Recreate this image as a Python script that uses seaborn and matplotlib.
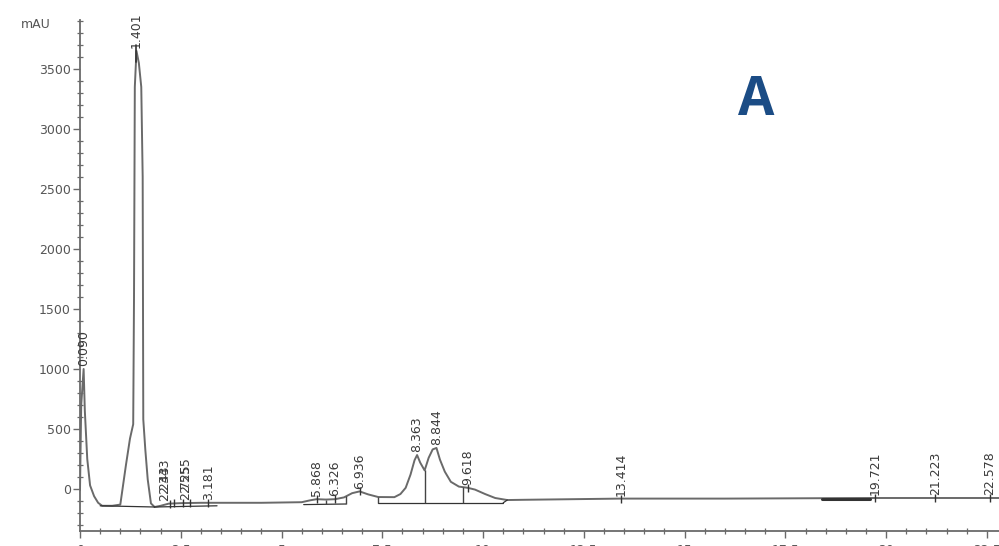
import numpy as np
import pandas as pd
import matplotlib
matplotlib.use("Agg")
import matplotlib.pyplot as plt
import seaborn as sns
from matplotlib.ticker import MultipleLocator

# Detector trace (retention time in min, absorbance in mAU)
time_min = [0.00, 0.03, 0.09, 0.12, 0.18, 0.25, 0.35, 0.45, 0.55, 0.80,
            1.00, 1.14, 1.24, 1.32, 1.34, 1.36, 1.401, 1.46, 1.52, 1.555,
            1.57, 1.62, 1.68, 1.76, 1.85, 2.00, 2.20, 2.50, 3.00, 3.50, 4.50,
            5.50, 5.70, 5.868, 6.10, 6.326, 6.55, 6.75, 6.936, 7.15, 7.40,
            7.80, 7.95, 8.08, 8.20, 8.30, 8.363, 8.44, 8.55, 8.65, 8.75,
            8.844, 8.93, 9.05, 9.20, 9.40, 9.618, 9.80, 10.05, 10.30, 10.60,
            11.00, 13.414, 16.00, 19.721, 21.223, 22.578, 22.80]
absorbance = [-10, 700, 1000, 650, 250, 30, -60, -115, -140, -140,
              -130, 200, 420, 540, 1600, 3350, 3650, 3550, 3350, 2600,
              580, 330, 80, -120, -150, -140, -122, -118, -115, -115, -115,
              -110, -95, -85, -88, -85, -70, -35, -20, -45, -67,
              -68, -42, 10, 120, 240, 283, 220, 155, 260, 330,
              342, 245, 145, 60, 20, 10, -5, -42, -75, -92,
              -90, -80, -80, -75, -75, -75, -75]

# Integrated peaks: retention times and labels
peak_rt = [0.090, 1.401, 2.243, 2.343, 2.555, 2.725, 3.181, 5.868, 6.326,
           6.936, 8.363, 8.844, 9.618, 13.414, 19.721, 21.223, 22.578]
peak_labels = ["0.090", "1.401", "2.243", "2.343", "2.555", "2.725", "3.181",
               "5.868", "6.326", "6.936", "8.363", "8.844", "9.618",
               "13.414", "19.721", "21.223", "22.578"]
# label nudges (points) for the crowded early group
label_dx = [0, 0, -4, -7, 2, -3, 0, 0, 0, 0, 0, 0, 0, 0, 0, 0, 0]
label_dy = [2, 2, 2, 7, 7, 2, 2, 2, 2, 2, 2, 2, 2, 2, 2, 2, 2]

# Integration baselines (start time, start mAU, end time, end mAU)
bl_t0 = [0.50, 1.85, 5.55, 7.40, 18.40]
bl_y0 = [-140, -150, -130, -115, -80]
bl_t1 = [1.85, 3.40, 6.60, 10.50, 19.60]
bl_y1 = [-150, -140, -125, -115, -80]

# Drop lines between partially resolved peaks
drop_t = [6.10, 6.60, 7.40, 8.55, 9.50]
drop_bottom = [-128, -125, -115, -115, -115]

x_ticks = [0, 2.5, 5, 7.5, 10, 12.5, 15, 17.5, 20, 22.5]
x_tick_labels = ["0", "2.5", "5", "7.5", "10", "12.5", "15", "17.5", "20", "22.5"]
y_ticks = [0, 500, 1000, 1500, 2000, 2500, 3000, 3500]

sns.set_style("ticks")
plt.rcParams["font.family"] = ["DejaVu Sans"]

fig = plt.figure(figsize=(9.99, 5.46), dpi=100)
ax = fig.add_axes([80 / 999, 15 / 546, 919 / 999, 511 / 546])

trace = pd.DataFrame({"time": time_min, "mAU": absorbance})
sns.lineplot(data=trace, x="time", y="mAU", ax=ax, color="#6a6a6a",
             linewidth=1.4, estimator=None, sort=False)

# integration baselines
for t0, y0, t1, y1 in zip(bl_t0, bl_y0, bl_t1, bl_y1):
    lw = 2.2 if t0 > 18 else 0.9
    ax.plot([t0, t1], [y0, y1], color="#333333", linewidth=lw)
ax.plot([10.50, 10.60], [-115, -92], color="#333333", linewidth=0.9)

# drop lines
drop_top = np.interp(drop_t, time_min, absorbance)
ax.vlines(drop_t, drop_bottom, drop_top, color="#444444", linewidth=1.0)

# peak markers and retention time labels
apex = np.interp(peak_rt, time_min, absorbance)
small = [i for i, v in enumerate(apex) if v < 50]
ax.scatter(np.array(peak_rt)[small], apex[small], marker="|", s=40,
           color="#333333", linewidths=1.0, zorder=3)
ax.plot([1.401, 1.401], [3560, 3700], color="#333333", linewidth=1.2)
for rt, h, lab, dx, dy in zip(peak_rt, apex, peak_labels, label_dx, label_dy):
    ax.annotate(lab, xy=(rt, h), xytext=(dx, dy), textcoords="offset points",
                rotation=90, ha="center", va="bottom", fontsize=9,
                color="#3a3a3a")

ax.set_xlim(0, 22.80)
ax.set_ylim(-350, 3908)
ax.set_xticks(x_ticks)
ax.set_xticklabels(x_tick_labels)
ax.set_yticks(y_ticks)
ax.xaxis.set_minor_locator(MultipleLocator(0.5))
ax.yaxis.set_minor_locator(MultipleLocator(100))
ax.set_xlabel("")
ax.set_ylabel("")

for side in ("top", "right"):
    ax.spines[side].set_visible(False)
for side in ("left", "bottom"):
    ax.spines[side].set_color("#6a6a6a")
    ax.spines[side].set_linewidth(1.3)

ax.tick_params(axis="both", which="major", direction="out", length=5,
               width=1.0, color="#6a6a6a", labelsize=9, labelcolor="#555555",
               pad=1.5)
ax.tick_params(axis="x", which="major", pad=4)
ax.tick_params(axis="both", which="minor", direction="inout", length=4,
               width=0.9, color="#6a6a6a")

fig.text(36 / 999, 1 - 25 / 546, "mAU", ha="center", va="center",
         fontsize=9, color="#555555")
fig.text(756 / 999, 1 - 101 / 546, "A", ha="center", va="center",
         fontsize=38, fontweight="bold", family=["Open Sans", "DejaVu Sans"],
         color="#1b4c85")

fig.savefig("out.png", dpi=100)
